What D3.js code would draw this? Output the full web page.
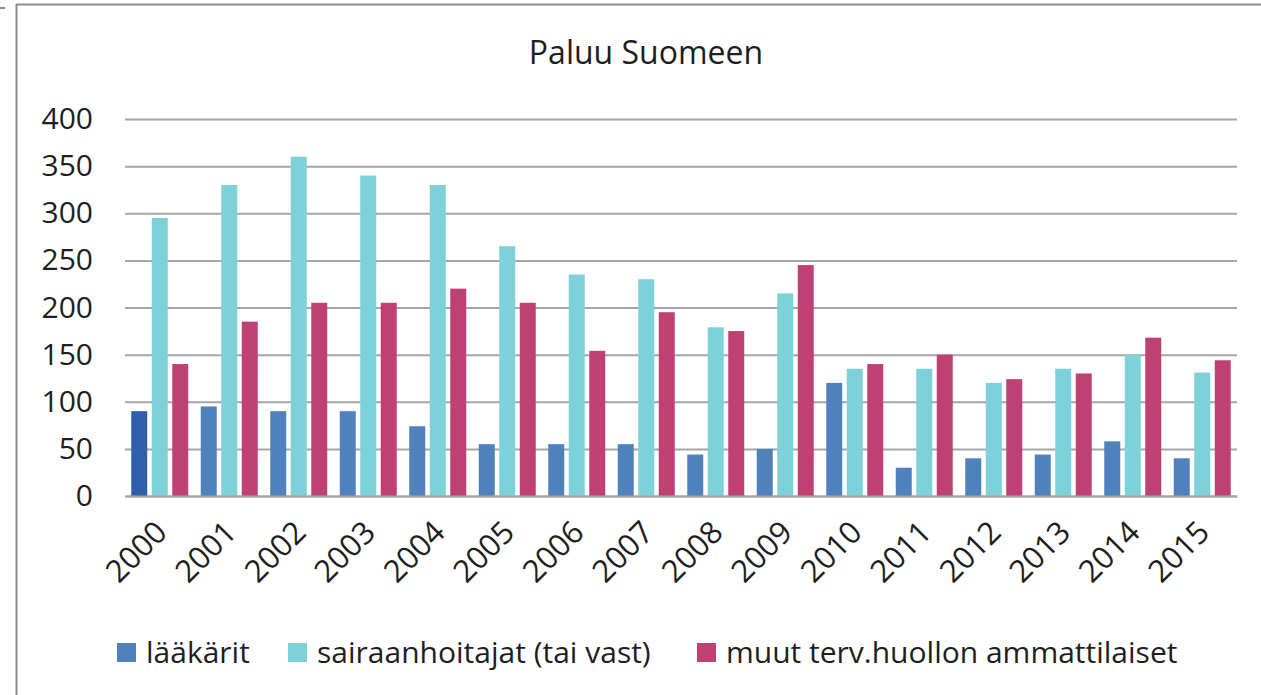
<!DOCTYPE html>
<html>
<head>
<meta charset="utf-8">
<script src="https://cdn.jsdelivr.net/npm/d3@7"></script>
<style>
  body { margin: 0; background: #fff; }
  text { font-family: "Open Sans", "DejaVu Sans", sans-serif; fill: #1e1e1e; }
</style>
</head>
<body>
<div id="chart"></div>
<script>
const years = ['2000','2001','2002','2003','2004','2005','2006','2007','2008','2009','2010','2011','2012','2013','2014','2015'];
const seriesNames = ['lääkärit', 'sairaanhoitajat (tai vast)', 'muut terv.huollon ammattilaiset'];
const laakarit = [90, 95, 90, 90, 74, 55, 55, 55, 44, 50, 120, 30, 40, 44, 58, 40];
const sairaanhoitajat = [295, 330, 360, 340, 330, 265, 235, 230, 179, 215, 135, 135, 120, 135, 150, 131];
const muut = [140, 185, 205, 205, 220, 205, 154, 195, 175, 245, 140, 150, 124, 130, 168, 144];
const yTicks = [0, 50, 100, 150, 200, 250, 300, 350, 400];
const colors = ['#4F81BD', '#7DD1D8', '#BF4073'];

const W = 1261, H = 695;
const margin = {top: 119, right: 24, bottom: 199, left: 125};
const innerW = W - margin.left - margin.right,
      innerH = H - margin.top - margin.bottom;

const svg = d3.select('#chart').append('svg')
  .attr('width', W)
  .attr('height', H);

// frame
svg.append('line').attr('x1', 16.5).attr('x2', W).attr('y1', 4.5).attr('y2', 4.5)
  .attr('stroke', '#8c8c8c').attr('stroke-width', 2);
svg.append('line').attr('x1', 16.5).attr('x2', 16.5).attr('y1', 4).attr('y2', H)
  .attr('stroke', '#8c8c8c').attr('stroke-width', 2);
svg.append('line').attr('x1', 0).attr('x2', 5).attr('y1', 8).attr('y2', 8)
  .attr('stroke', '#8c8c8c').attr('stroke-width', 2);

svg.append('text')
  .attr('x', 646).attr('y', 64)
  .attr('text-anchor', 'middle')
  .style('font-size', '32px')
  .text('Paluu Suomeen');

const g = svg.append('g').attr('transform', `translate(${margin.left},${margin.top})`);

const x0 = d3.scaleBand().domain(years).range([0, innerW]).paddingInner(0.18).paddingOuter(0.09);
const x1 = d3.scaleBand().domain(d3.range(3)).range([0, x0.bandwidth()]).paddingInner(0.22);
const y = d3.scaleLinear().domain([0, 400]).range([innerH, 0]);

// gridlines
g.append('g')
  .call(d3.axisLeft(y).tickValues(yTicks).tickSize(-innerW).tickFormat(''))
  .call(a => a.select('.domain').remove())
  .call(a => a.selectAll('line').attr('stroke', '#a6a6a6').attr('stroke-width', 2));

// y labels
g.append('g')
  .call(d3.axisLeft(y).tickValues(yTicks).tickSize(0).tickPadding(32))
  .call(a => a.select('.domain').remove())
  .call(a => a.selectAll('text').style('font-size', '30px').attr('fill', '#1e1e1e'));

const rows = years.map((yr, i) => ({year: yr, vals: [laakarit[i], sairaanhoitajat[i], muut[i]]}));

g.selectAll('.grp').data(rows).enter().append('g')
  .attr('class', 'grp')
  .attr('transform', d => `translate(${x0(d.year)},0)`)
  .selectAll('rect').data(d => d.vals.map((v, k) => ({k, v, year: d.year})))
  .enter().append('rect')
  .attr('x', d => x1(d.k))
  .attr('width', x1.bandwidth())
  .attr('y', d => y(d.v))
  .attr('height', d => innerH - y(d.v))
  .attr('fill', d => (d.year === '2000' && d.k === 0) ? '#2F5FAA' : colors[d.k]);

// x labels
const xa = g.append('g').attr('transform', `translate(0,${innerH})`)
  .call(d3.axisBottom(x0).tickSize(0).tickFormat(d => d));
xa.select('.domain').attr('stroke', '#a6a6a6').attr('stroke-width', 2);
xa.selectAll('text')
  .style('font-size', '31px')
  .attr('fill', '#1e1e1e')
  .attr('text-anchor', 'end')
  .attr('dy', 0)
  .attr('transform', 'translate(7,36) rotate(-45)');

// legend
const legendX = [117, 288, 697];
const leg = svg.append('g').selectAll('g').data(seriesNames).enter().append('g')
  .attr('transform', (d, i) => `translate(${legendX[i]},643)`);
leg.append('rect').attr('width', 19).attr('height', 19).attr('fill', (d, i) => colors[i]);
leg.append('text').attr('x', 29).attr('y', 20).style('font-size', '30px').text(d => d);
</script>
</body>
</html>
